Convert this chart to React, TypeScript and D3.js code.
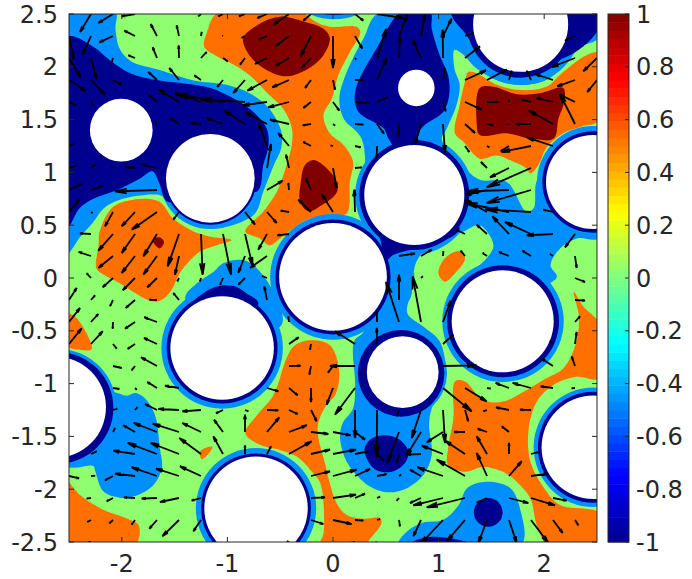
import React from 'react';
import * as d3 from 'd3';

type Pt = [number, number];

// contour outlines, data units, painted back to front
const azureBlobs: Pt[][] = [
  [[-2.52,2.52],[-2.06,2.52],[-2.06,2.36],[-2.02,2.17],[-1.91,2.05],[-1.64,1.97],[-1.32,1.87],[-1.01,1.83],[-.79,1.75],[-.61,1.61],[-.49,1.39],[-.49,1.23],[-.56,1.07],[-.66,.82],[-.75,.60],[-1.16,.47],[-1.48,.60],[-1.61,.77],[-1.70,.79],[-2.02,.74],[-2.17,.66],[-2.27,.53],[-2.40,.38],[-2.52,.23]],
  [[.445,2.52],[2.51,2.52],[2.51,2.27],[2.31,2.175],[2.18,2.02],[2.02,1.875],[1.77,1.83],[1.55,1.875],[1.36,1.985],[1.22,2.127],[1.15,2.16],[1.15,1.985],[1.20,1.83],[1.17,1.64],[1.08,1.42],[1.03,1.31],[1.22,1.07],[1.39,.93],[1.645,.91],[1.83,.63],[1.90,.66],[1.945,.94],[2.245,.91],[2.51,.69],[2.51,.375],[2.31,.375],[2.15,.28],[2.06,.12],[2.12,.01],[2.0,-.07],[1.61,-.13],[1.33,.03],[1.36,.09],[1.455,.186],[1.52,.31],[1.39,.50],[1.235,.44],[.92,.31],[.79,.155],[.76,.03],[.71,-.225],[.35,-.225],[.33,.4],[.31,.85],[.27,1.32],[.10,1.51],[.06,1.70],[.13,1.95],[.29,2.27]],
  [[.49,.06],[.76,.06],[.73,-.16],[.705,-.335],[.855,-.46],[1.01,-.60],[1.07,-.887],[1.045,-1.045],[.935,-1.235],[.91,-1.39],[.935,-1.677],[.856,-1.866],[.70,-1.99],[.54,-2.03],[.38,-1.99],[.256,-1.90],[.13,-1.74],[.067,-1.52],[.09,-1.377],[.19,-1.235],[.21,-1.014],[.20,-.60],[.29,-.51]],
  [[-1.40,-.193],[-1.29,-.05],[-1.13,.06],[-1.04,.14],[-.85,.17],[-.72,.09],[-.565,-.13],[-.476,-.414],[-.565,-.51],[-1.05,-.67]],
  [[-2.11,-1.08],[-1.95,-1.115],[-1.875,-1.09],[-1.78,-1.14],[-1.685,-1.30],[-1.64,-1.61],[-1.62,-1.80],[-1.70,-1.96],[-1.86,-2.06],[-2.02,-2.08],[-2.175,-2.02],[-2.25,-1.835],[-2.27,-1.78],[-2.52,-1.78],[-2.52,-1.235]],
  [[.62,-2.53],[.68,-2.42],[.84,-2.32],[1.045,-2.29],[1.19,-2.15],[1.27,-1.99],[1.455,-1.93],[1.68,-1.99],[1.77,-2.18],[1.78,-2.53]],
];
const orangeBlobs: Pt[][] = [
  [[-2.21,.44],[-2.08,.675],[-1.80,.75],[-1.64,.72],[-1.51,.56],[-1.32,.44],[-1.16,.39],[-.96,.36],[-1.10,.31],[-1.26,.25],[-1.42,.09],[-1.46,.03],[-1.54,-.13],[-1.65,-.22],[-1.75,-.21],[-1.87,-.145],[-2.02,-.05],[-2.17,.03],[-2.24,.09],[-2.22,.31]],
  [[-1.085,2.52],[-.31,2.52],[-.17,2.43],[-.03,2.38],[.22,2.38],[.26,2.33],[.16,2.14],[.05,1.92],[-.01,1.70],[-.09,1.54],[-.03,1.37],[.10,1.26],[.19,1.10],[.16,.91],[.13,.61],[-.03,.59],[-.23,.56],[-.375,.47],[-.50,.375],[-.60,.31],[-.69,.375],[-.83,.44],[-.66,.63],[-.53,.82],[-.44,1.07],[-.39,1.26],[-.39,1.42],[-.47,1.60],[-.60,1.73],[-.79,1.92],[-.94,2.02],[-1.10,2.10],[-1.22,2.19],[-1.196,2.32]],
  [[1.28,1.95],[1.36,1.94],[1.55,1.83],[1.77,1.78],[2.02,1.81],[2.18,1.95],[2.40,2.11],[2.53,2.13],[2.53,1.50],[2.34,1.43],[2.18,1.37],[2.02,1.23],[1.945,1.07],[1.87,.99],[1.83,1.04],[1.71,1.10],[1.55,1.16],[1.39,1.13],[1.235,1.29],[1.155,1.37],[1.20,1.64],[1.25,1.86]],
  [[.998,.044],[1.06,.186],[1.19,.255],[1.25,.186],[1.156,.044],[1.06,-.035]],
  [[1.155,-.98],[1.25,-.98],[1.42,-1.156],[1.61,-1.17],[1.835,-1.06],[2.02,-.95],[2.18,-.856],[2.29,-.65],[2.33,-.38],[2.28,-.13],[2.37,-.27],[2.53,-.445],[2.53,-.95],[2.31,-.935],[2.09,-1.01],[1.93,-1.17],[1.85,-1.456],[1.87,-1.74],[2.0,-1.99],[2.15,-2.15],[2.53,-2.23],[2.53,-2.53],[2.04,-2.53],[1.93,-2.34],[1.87,-2.09],[1.74,-1.93],[1.61,-1.835],[1.42,-1.79],[1.25,-1.835],[1.09,-1.77],[1.09,-1.61],[1.14,-1.33]],
  [[-.83,-1.47],[-.72,-1.30],[-.565,-1.11],[-.44,-.76],[-.375,-.65],[-.23,-.59],[-.03,-.635],[.06,-.89],[.02,-1.11],[-.06,-1.2],[-.14,-1.376],[-.14,-1.50],[-.076,-1.755],[-.03,-1.944],[.035,-2.134],[.13,-2.244],[.30,-2.28],[.44,-2.27],[.46,-2.32],[.35,-2.47],[.30,-2.53],[-.12,-2.53],[-.09,-2.42],[-.09,-2.134],[-.12,-1.944],[-.186,-1.85],[-.344,-1.69],[-.50,-1.63],[-.69,-1.58]],
  [[-2.52,-.335],[-2.427,-.38],[-2.285,-.673],[-2.396,-.68],[-2.52,-.64]],
  [[-1.259,-1.645],[-1.212,-1.61],[-1.142,-1.598],[-1.164,-1.645],[-1.243,-1.715]],
  [[-2.52,-1.93],[-2.396,-2.056],[-2.206,-2.18],[-1.954,-2.277],[-1.84,-2.34],[-1.875,-2.53],[-2.52,-2.53]],
];
const redBlobs: Pt[][] = [
  [[-.85,2.27],[-.69,2.41],[-.50,2.475],[-.28,2.43],[-.09,2.36],[-.03,2.27],[-.09,2.11],[-.23,1.985],[-.44,1.91],[-.63,1.97],[-.785,2.10]],
  [[-.185,1.117],[-.06,1.04],[.035,.91],[.04,.82],[-.03,.74],[-.09,.70],[-.23,.63],[-.31,.72],[-.305,.91],[-.265,1.07]],
  [[1.39,1.80],[1.52,1.81],[1.74,1.74],[1.96,1.75],[2.18,1.80],[2.19,1.67],[2.135,1.51],[2.09,1.32],[1.87,1.32],[1.645,1.37],[1.39,1.354],[1.36,1.48]],
  [[-1.71,.36],[-1.64,.385],[-1.60,.34],[-1.64,.28]],
];
const navyBlobs: Pt[][] = [
  [[-2.52,2.28],[-2.27,2.19],[-2.11,2.06],[-1.92,1.94],[-1.64,1.87],[-1.39,1.84],[-1.16,1.80],[-.94,1.70],[-.75,1.57],[-.63,1.42],[-.61,1.26],[-.66,1.07],[-.72,.82],[-1.16,.94],[-1.56,.72],[-1.65,.91],[-1.71,1.01],[-1.83,.94],[-2.05,.83],[-2.27,.75],[-2.40,.66],[-2.52,.47]],
  [[.65,2.52],[.92,2.52],[.935,2.36],[1.01,2.11],[1.09,1.92],[1.10,1.73],[1.045,1.575],[.825,1.40],[.77,1.005],[.525,1.32],[.48,1.417],[.24,1.575],[.21,1.764],[.414,2.175]],
  [[.32,.565],[.445,.375],[.49,.155],[.57,.217],[.73,.265],[.92,.30],[1.20,.47],[.77,.785]],
  [[1.125,2.52],[1.25,2.317],[1.49,2.05],[2.18,2.08],[2.51,2.35],[2.51,2.52]],
  [[-1.32,-.24],[-1.23,-.146],[-1.10,-.08],[-.94,-.076],[-.817,-.146],[-.707,-.24],[-1.05,-.67]],
  [[.30,-1.61],[.367,-1.52],[.51,-1.49],[.635,-1.535],[.714,-1.645],[.68,-1.755],[.556,-1.835],[.414,-1.82],[.335,-1.74]],
  [[.71,-2.53],[.79,-2.48],[.95,-2.45],[1.14,-2.47],[1.35,-2.53]],
];

// obstacles [x, y, r]
const obstacles = [
  [-2.005,1.40,.297],[-1.162,.944,.42],[0,.01,.51],[.77,.786,.474],[.789,1.80,.173],[1.777,2.402,.45],[2.462,.909,.445],
  [-1.05,-.663,.49],[1.607,-.41,.483],[.66,-.892,.34],[-2.63,-1.224,.48],[-.729,-2.181,.49],[2.465,-1.603,.49],
];
const azureRings = [
  [-1.162,.944,.48],[0,.01,.595],[.77,.786,.56],[1.777,2.402,.575],[2.462,.909,.53],[-1.05,-.663,.575],[1.61,-.41,.575],
  [.66,-.9,.42],[-2.61,-1.23,.56],[-.729,-2.181,.57],[2.465,-1.603,.565],[.01,3.02,.57],
];
const navyRings = [
  [-1.162,.944,.44],[0,.01,.545],[.77,.786,.52],[1.777,2.402,.505],[2.462,.909,.48],[-1.05,-.663,.525],[1.61,-.41,.53],
  [.645,-.903,.41],[-2.61,-1.23,.53],[-.729,-2.181,.52],[2.465,-1.603,.525],[.01,3.02,.53],[1.47,-2.22,.136],
];

// velocity samples per grid row: [column, u, v]
const quiverRows: number[][][] = [
  [[1,-33,-54],[2,-44,-27],[3,-40,-7],[6,-8,-7],[7,-14,-7],[8,-18,-7],[9,-29,-12],[10,-47,-32],[11,-23,-20],[13,25,-20],[14,79,-12]],
  [[0,14,-70],[1,-25,-56],[2,-41,-19],[3,-32,16],[4,-19,36],[5,-7,32],[6,2,12],[7,-2,1],[8,-10,-6],[9,-26,-11],[10,-39,-29],[11,-31,-61],[12,0,-96],[13,22,-38],[15,25,64],[16,12,64],[17,26,52],[18,25,9],[23,-30,-14]],
  [[0,35,-58],[1,17,-65],[2,-6,-20],[3,-20,8],[4,-13,32],[5,-1,38],[6,17,18],[7,14,-10],[8,-15,-20],[9,-36,-18],[10,-39,-23],[11,-28,-30],[13,3,-5],[14,28,88],[15,3,65],[16,-25,55],[17,-1,85],[18,45,35],[23,-70,-27],[24,-41,-40]],
  [[0,51,-34],[1,42,-44],[2,26,-14],[4,-26,24],[5,-29,36],[6,-20,14],[7,-17,-21],[8,-35,-39],[9,-59,-32],[10,-50,-22],[11,-18,-24],[12,6,-29],[13,28,0],[14,29,66],[17,6,36],[18,63,29],[19,59,31],[20,8,28],[21,-13,28],[22,-54,18],[23,-53,-19],[24,-29,-36]],
  [[0,21,-10],[1,7,-10],[4,-26,22],[5,-62,37],[6,-78,27],[7,-144,24],[8,-135,8],[9,-73,-10],[10,-62,-16],[11,-23,-18],[12,19,-26],[13,43,-3],[14,31,14],[17,8,-28],[18,50,-23],[19,34,0],[20,0,6],[21,-28,7],[22,-49,12],[23,-45,22]],
  [[4,-6,6],[5,-27,18],[6,-31,3],[7,-51,18],[8,-63,40],[9,-66,36],[10,-57,13],[11,-25,-4],[12,6,-5],[13,25,-2],[14,21,-29],[15,0,-40],[16,-18,-60],[17,6,-87],[18,30,-27],[19,19,-5],[20,-7,-2],[21,-45,0],[22,-72,40],[23,-45,90]],
  [[0,13,6],[9,-25,69],[10,-32,39],[11,-23,12],[12,-7,2],[13,17,-4],[14,-1,-36],[18,13,-18],[19,7,-4],[20,-25,-16],[21,-88,-18],[22,-79,26]],
  [[0,21,7],[1,15,10],[2,-4,3],[3,-30,3],[4,-46,12],[9,12,72],[10,-9,40],[12,11,-60],[13,20,2],[19,-18,18],[20,-57,-28],[21,-133,-58]],
  [[0,38,18],[1,37,13],[4,-126,-4],[9,47,28],[10,-2,21],[11,-16,36],[13,-5,-19],[19,-66,-16],[20,-127,-4],[21,-133,-39]],
  [[0,31,37],[1,5,-3],[2,-24,-43],[3,-40,-43],[4,-76,-53],[5,-17,-23],[8,30,-38],[9,29,-33],[10,-25,4],[11,-38,37],[12,-34,54],[13,-2,67],[19,-66,37],[20,-132,27],[21,-138,8],[22,-29,7]],
  [[1,-33,2],[2,-44,-50],[3,-40,-57],[4,-41,-67],[5,-34,-97],[6,5,-122],[7,24,-122],[8,23,-97],[9,-26,-47],[10,-35,-4],[14,9,3],[18,-27,13],[19,-31,28],[20,-50,53],[21,-78,36],[22,-79,-4],[23,-30,-40]],
  [[1,-37,12],[2,-44,-36],[3,-40,-51],[4,-41,-56],[5,-12,-56],[8,-20,-50],[9,-51,-36],[15,48,8],[16,32,19],[17,1,14],[18,-13,16],[19,-13,9],[20,-30,12],[21,-26,16],[22,-9,6],[23,5,-36]],
  [[1,-13,14],[2,-31,-28],[3,-37,-37],[4,-29,-28],[5,-5,-10],[6,-3,-10],[7,-9,-20],[8,-20,-20],[9,-15,6],[16,5,5],[23,30,-12]],
  [[0,23,36],[1,12,14],[2,-9,-19],[3,-28,-24],[4,-23,1],[5,-17,21],[9,-8,41],[15,0,76],[23,30,-2]],
  [[0,33,42],[1,22,24],[2,-1,-20],[3,-30,-20],[4,-38,14],[10,-2,17],[14,-1,32],[15,-39,120],[16,-25,137],[17,23,64],[23,15,17]],
  [[0,38,47],[1,35,38],[2,11,-14],[3,-22,-15],[4,-39,18],[10,29,20],[11,-3,-17],[13,-60,38],[14,-1,48],[17,31,28],[22,-9,10],[23,5,36]],
  [[2,26,-6],[3,-10,-13],[4,-48,26],[10,35,1],[11,-5,-26],[12,-15,-20],[13,-75,0],[17,101,2],[22,-34,22],[23,-10,29]],
  [[2,19,-3],[3,5,-5],[4,-29,18],[5,-42,7],[9,34,-10],[10,26,-22],[11,0,-42],[12,-19,-50],[13,-60,-80],[17,86,-70],[18,65,-40],[19,11,-2],[20,-40,15],[21,-55,15],[22,-37,5],[23,-10,-1]],
  [[2,13,4],[3,7,8],[4,-36,18],[5,-62,3],[6,-56,-4],[7,-21,-10],[8,10,-4],[9,34,-1],[10,26,-12],[11,17,-34],[13,0,-84],[14,-1,-142],[15,-7,-19],[16,-28,-84],[17,6,-99],[18,10,-34],[19,-11,-4],[20,-39,8],[21,-33,1]],
  [[2,6,12],[3,-35,20],[4,-70,27],[5,-79,25],[6,-56,27],[7,-27,37],[8,0,52],[9,37,44],[10,53,20],[11,52,-6],[12,53,-10],[13,30,-23],[15,-35,-93],[16,-45,-73],[17,-49,-31],[18,-32,0],[19,-28,10],[20,-22,17]],
  [[1,17,8],[3,-65,10],[4,-88,33],[5,-85,33],[6,-65,48],[7,-29,53],[8,0,26],[9,12,23],[10,68,38],[11,57,13],[12,69,13],[13,40,8],[14,19,-20],[15,-7,-27],[16,-41,-2],[17,-64,25],[18,-60,40],[19,-31,53],[20,0,33],[21,22,6]],
  [[0,30,-7],[1,12,1],[2,-24,-13],[3,-60,7],[4,-76,26],[5,-69,22],[6,-63,29],[11,57,14],[12,71,19],[13,45,21],[14,29,6],[15,6,4],[16,-33,19],[17,-77,26],[18,-85,49],[19,-31,69],[20,38,44],[21,52,7]],
  [[1,-13,-2],[2,-19,-10],[3,-33,2],[4,-46,-2],[5,-57,-12],[6,-28,-8],[11,42,2],[12,69,10],[13,30,13],[14,9,4],[15,-7,-8],[16,-33,-15],[17,-89,-22],[18,-115,-28],[19,-31,-15],[20,58,-15],[21,72,-22],[22,41,-8]],
  [[1,-11,-6],[2,-11,-10],[3,-10,-14],[4,-23,-26],[5,-50,-49],[6,-23,-34],[11,37,-12],[12,56,-12],[13,25,-2],[14,9,3],[15,3,-19],[16,-23,-49],[17,-69,-74],[18,-55,-64],[19,-26,-69],[20,23,-69],[21,52,-69],[22,29,-39],[23,10,-16]],
  [[1,-8,0],[10,-6,3],[13,-10,-2],[14,-10,-4]],
];

const yTicks = [-2.5,-2,-1.5,-1,-0.5,0,0.5,1,1.5,2,2.5];
const xTicks = [-2,-1,0,1,2];
const cTicks = [-1,-0.8,-0.6,-0.4,-0.2,0,0.2,0.4,0.6,0.8,1];

const INK = '#262626';
const FONT = '"DejaVu Sans", sans-serif';
const NAVY = '#00008f';
const AZURE = '#008fff';
const GREEN = '#8fff70';
const ORANGE = '#ff7000';
const RED = '#800000';

const gridStep = 5 / 24;
const quiverScale = 0.003157;

const x = d3.scaleLinear().domain([-2.5, 2.5]).range([69, 597]);
const y = d3.scaleLinear().domain([-2.5, 2.5]).range([542, 14]);
const c = d3.scaleLinear().domain([-1, 1]).range([542, 14]);
const jet = d3
  .scaleLinear<string>()
  .domain([-1, -0.75, -0.25, 0.25, 0.75, 1])
  .range(['#00008f', '#0000ff', '#00ffff', '#ffff00', '#ff0000', '#800000']);

const blobPath = d3
  .line<Pt>()
  .x((d) => x(d[0]))
  .y((d) => y(d[1]))
  .curve(d3.curveCatmullRomClosed.alpha(0.5));

const Blobs = ({ list, fill }: { list: Pt[][]; fill: string }) => (
  <>
    {list.map((b, i) => (
      <path key={i} d={blobPath(b) || ''} fill={fill} />
    ))}
  </>
);

const Discs = ({ list, fill }: { list: number[][]; fill: string }) => (
  <>
    {list.map((d, i) => (
      <circle key={i} cx={x(d[0])} cy={y(d[1])} r={x(d[2]) - x(0)} fill={fill} />
    ))}
  </>
);

// tail, shaft and two short barbs
const arrowPath = (i: number, j: number, u: number, v: number) => {
  const x0 = -2.5 + i * gridStep;
  const y0 = 2.5 - j * gridStep;
  const du = u * quiverScale;
  const dv = v * quiverScale;
  const hx = x0 + du;
  const hy = y0 + dv;
  const bx = hx - 0.28 * (du + 0.2 * dv);
  const by = hy - 0.28 * (dv - 0.2 * du);
  const cx = hx - 0.28 * (du - 0.2 * dv);
  const cy = hy - 0.28 * (dv + 0.2 * du);
  return `M${x(x0)},${y(y0)}L${x(hx)},${y(hy)}M${x(bx)},${y(by)}L${x(hx)},${y(hy)}L${x(cx)},${y(cy)}`;
};

export default function App() {
  const colourSteps = d3.range(64);
  const stepH = 528 / 64;
  return (
    <svg width={692} height={579} style={{ position: 'absolute', left: 0, top: 0, background: '#fff' }} fontFamily={FONT}>
      <defs>
        <clipPath id="plot">
          <rect x={69} y={14} width={528} height={528} />
        </clipPath>
      </defs>
      <g clipPath="url(#plot)">
        <rect x={69} y={14} width={528} height={528} fill={GREEN} />
        <Blobs list={azureBlobs} fill={AZURE} />
        <Blobs list={orangeBlobs} fill={ORANGE} />
        <Blobs list={redBlobs} fill={RED} />
        <Discs list={azureRings} fill={AZURE} />
        <Blobs list={navyBlobs} fill={NAVY} />
        <Discs list={navyRings} fill={NAVY} />
        <Discs list={obstacles} fill="#fff" />
        <g stroke="#000" strokeWidth={1.8} fill="none">
          {quiverRows.map((row, j) =>
            row.map((a) => <path key={`${j}-${a[0]}`} d={arrowPath(a[0], j, a[1], a[2])} />)
          )}
        </g>
      </g>

      {/* axes box */}
      <rect x={69} y={14} width={528} height={528} fill="none" stroke={INK} strokeWidth={1} />
      {yTicks.map((t) => (
        <g key={t}>
          <path d={`M69,${y(t)}h5M597,${y(t)}h-5`} stroke={INK} />
          <text x={58} y={y(t)} dy="0.36em" textAnchor="end" fontSize={24} fill={INK}>
            {t}
          </text>
        </g>
      ))}
      {xTicks.map((t) => (
        <g key={t}>
          <path d={`M${x(t)},542v-5M${x(t)},14v5`} stroke={INK} />
          <text x={x(t)} y={572} textAnchor="middle" fontSize={24} fill={INK}>
            {t}
          </text>
        </g>
      ))}

      {/* colour bar */}
      {colourSteps.map((k) => (
        <rect
          key={k}
          x={608}
          y={14 + (63 - k) * stepH}
          width={21}
          height={stepH + 0.5}
          fill={jet(-1 + ((k + 0.5) * 2) / 64)}
        />
      ))}
      <rect x={608} y={14} width={21} height={528} fill="none" stroke={INK} />
      {cTicks.map((t) => (
        <g key={t}>
          <path d={`M629,${c(t)}h-4`} stroke={INK} />
          <text x={636} y={c(t)} dy="0.36em" fontSize={24} fill={INK}>
            {t}
          </text>
        </g>
      ))}
    </svg>
  );
}
